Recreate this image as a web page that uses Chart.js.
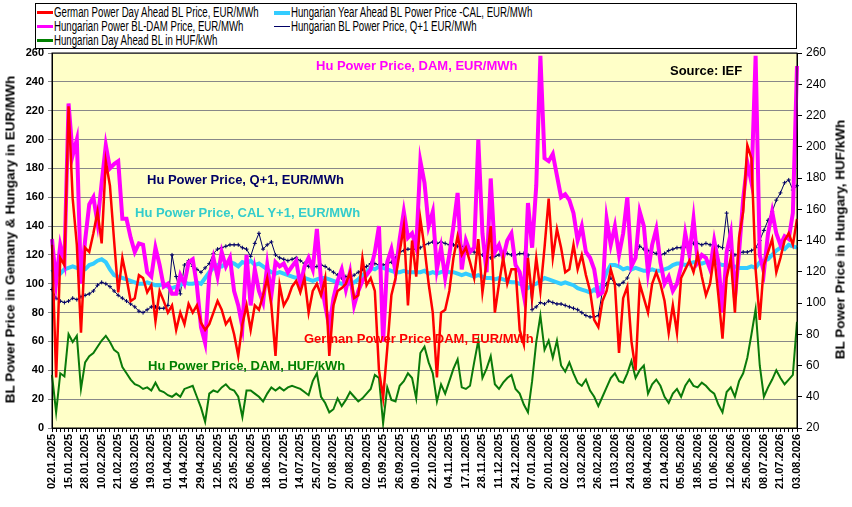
<!DOCTYPE html>
<html><head><meta charset="utf-8">
<script src="https://cdn.jsdelivr.net/npm/chart.js@4.4.1/dist/chart.umd.min.js"></script>
<style>
body{margin:0;background:#fff;font-family:"Liberation Sans",Arial,sans-serif;}
#wrap{position:relative;width:852px;height:507px;}
canvas{position:absolute;left:0;top:0;}
.lg{position:absolute;left:35px;top:3px;width:760px;height:44px;border:1px solid #000;background:#fff;font-size:14px;}
.it{position:absolute;white-space:nowrap;line-height:14px;}
.sw{position:absolute;left:0;top:6px;width:16px;height:3px;}
.tx{position:absolute;left:17px;top:0;transform:scaleX(0.69);transform-origin:left center;}
.an{position:absolute;font-weight:bold;font-size:13px;white-space:nowrap;}
.yt{position:absolute;font-weight:bold;font-size:13.5px;white-space:nowrap;transform-origin:center;}
</style></head><body>
<div id="wrap">
<canvas id="c" width="852" height="507"></canvas>
<div class="lg">
 <div class="it" style="left:1px;top:1px"><span class="sw" style="background:#ff0000"></span><span class="tx">German Power Day Ahead BL Price, EUR/MWh</span></div>
 <div class="it" style="left:1px;top:15px"><span class="sw" style="background:#ff00ff"></span><span class="tx">Hungarian Power BL-DAM Price, EUR/MWh</span></div>
 <div class="it" style="left:1px;top:29px"><span class="sw" style="background:#008000"></span><span class="tx">Hungarian Day Ahead BL in HUF/kWh</span></div>
 <div class="it" style="left:238px;top:1px"><span class="sw" style="background:#33ccff;height:4px"></span><span class="tx">Hungarian Year Ahead BL Power Price -CAL, EUR/MWh</span></div>
 <div class="it" style="left:238px;top:15px"><span class="sw" style="background:#000066;height:1px;top:7px"></span><span class="tx">Hungarian BL Power Price, Q+1 EUR/MWh</span></div>
</div>
<div class="an" style="left:316px;top:58px;color:#ff00ff">Hu Power Price, DAM, EUR/MWh</div>
<div class="an" style="left:670px;top:63px;color:#000">Source: IEF</div>
<div class="an" style="left:147px;top:172px;color:#000066">Hu Power Price, Q+1, EUR/MWh</div>
<div class="an" style="left:135px;top:205px;color:#33cccc">Hu Power Price, CAL Y+1, EUR/MWh</div>
<div class="an" style="left:304px;top:331px;color:#ff0000">German Power Price DAM, EUR/MWh</div>
<div class="an" style="left:148px;top:358px;color:#008000">Hu Power Price, DAM, HUF/kWh</div>
<div class="yt" style="left:-155px;top:232px;width:330px;text-align:center;transform:rotate(-90deg)">BL Power Price in Gemany &amp; Hungary in EUR/MWh</div>
<div class="yt" style="left:705px;top:232px;width:270px;text-align:center;transform:rotate(-90deg)">BL Power Price in Hungary, HUF/kWh</div>
</div>
<script>
const tickLabels=["02.01.2025","15.01.2025","28.01.2025","10.02.2025","21.02.2025","06.03.2025","19.03.2025","01.04.2025","14.04.2025","29.04.2025","12.05.2025","23.05.2025","05.06.2025","18.06.2025","01.07.2025","14.07.2025","25.07.2025","07.08.2025","20.08.2025","02.09.2025","15.09.2025","26.09.2025","09.10.2025","22.10.2025","04.11.2025","17.11.2025","28.11.2025","11.12.2025","24.12.2025","07.01.2026","20.01.2026","02.02.2026","13.02.2026","26.02.2026","11.03.2026","24.03.2026","08.04.2026","21.04.2026","05.05.2026","18.05.2026","01.06.2026","12.06.2026","25.06.2026","08.07.2026","21.07.2026","03.08.2026"];
const germanDAM=[127,35,118,113,223,159,127,66,125,122,135,150,128,185,168,130,94,118,104,88,90,106,104,94,99,74,95,88,80,85,68,80,72,86,80,85,73,68,72,80,88,82,72,76,65,50,72,85,68,85,82,92,104,85,50,99,85,90,98,102,94,104,80,95,100,92,104,50,85,95,97,100,108,90,92,118,99,104,95,40,21,55,92,104,122,140,85,130,105,145,125,100,80,35,80,82,95,118,133,120,125,115,104,131,94,115,140,80,100,118,100,110,110,68,58,118,90,118,95,125,159,118,138,125,108,110,127,110,120,106,95,75,70,88,95,110,100,52,90,98,60,40,100,90,80,100,108,100,88,66,85,66,104,110,116,108,120,105,92,100,120,92,62,104,118,80,132,150,196,187,110,75,113,122,131,108,118,130,135,127,145];
const huDAM=[131,101,127,115,225,189,200,100,130,155,160,142,170,196,180,183,185,145,145,132,122,128,127,108,105,125,113,98,100,93,93,106,100,115,117,99,70,59,105,118,105,122,112,118,95,85,70,120,85,110,95,87,113,92,115,112,114,108,112,116,99,112,118,110,138,102,85,70,90,102,110,96,108,85,95,102,106,110,122,140,60,115,124,108,131,150,132,135,125,185,170,140,150,110,125,104,120,140,163,110,130,122,125,200,135,108,173,122,127,118,130,135,113,108,92,156,125,168,258,187,185,190,175,160,162,158,149,130,140,122,118,110,92,94,145,127,140,120,135,160,112,118,150,140,108,127,138,115,100,105,95,100,112,135,120,145,115,120,118,110,130,115,80,122,135,90,122,159,184,170,258,120,108,135,150,135,127,133,131,149,251];
const huDAM_HUF=[54,30,55,53,80,75,79,45,62,66,68,72,76,79,75,70,68,59,55,51,48,47,45,46,44,49,44,43,41,40,42,40,45,46,47,40,33,24,42,44,43,46,48,45,44,40,27,44,44,42,40,37,42,46,44,46,44,46,47,46,45,43,41,50,55,40,36,30,32,39,34,38,43,40,37,39,42,45,54,52,23,46,38,37,47,50,55,52,39,68,72,62,55,37,48,42,50,58,64,46,45,47,62,76,52,58,66,48,45,49,52,54,45,42,35,30,50,75,92,70,76,65,76,60,56,62,55,49,47,51,44,40,34,40,46,52,55,50,49,55,63,52,57,60,42,48,51,47,40,36,42,45,40,47,51,47,46,49,47,44,42,35,30,43,46,40,50,55,65,80,96,60,40,46,51,57,52,48,51,54,88];
const huCAL=[110,106,107,110,111,112,111,110,110,113,114,116,117,115,110,106,105,104,103,102,101,100,100,101,100,99,99,100,98,97,98,99,101,100,100,101,100,104,108,111,113,112,114,115,114,112,115,114,116,113,114,112,110,108,107,108,107,106,105,104,105,104,103,102,103,104,104,103,102,101,100,101,100,101,103,106,108,111,110,112,111,110,109,108,108,109,108,108,108,108,109,107,108,107,108,109,108,108,107,106,107,106,105,106,105,104,104,103,104,103,102,101,101,100,99,97,99,100,102,104,103,102,101,100,101,100,99,97,96,95,94,96,94,100,108,113,113,112,110,111,110,111,110,109,109,110,109,109,110,111,113,114,114,113,114,115,115,114,115,115,115,114,113,113,112,112,111,111,111,112,111,115,116,117,120,123,125,124,127,126,125];
const huQ1=[96,90,88,87,88,90,89,91,92,93,95,99,101,100,98,95,92,90,88,86,84,81,80,82,84,84,83,83,85,120,105,93,113,116,112,110,108,111,114,121,124,125,126,127,127,127,125,124,119,128,135,124,127,129,120,118,117,116,117,118,116,114,112,111,112,113,112,110,108,106,104,105,104,106,108,110,112,114,114,113,113,114,115,118,122,123,124,124,124,125,127,128,129,128,129,128,127,127,126,126,125,123,122,121,120,119,118,119,120,121,121,120,120,121,121,120,82,84,87,86,88,87,86,86,85,84,83,82,80,78,77,77,78,95,100,104,100,99,101,104,110,120,126,124,123,122,121,120,121,123,124,125,125,126,128,128,128,127,128,127,127,126,125,149,123,120,121,122,122,123,125,130,137,144,150,158,163,170,172,165,168];
const PER=4;
const cats=germanDAM.map((_,i)=>i);
const bg={id:'bg',beforeDraw(ch){const a=ch.chartArea,c=ch.ctx;c.save();c.fillStyle='#ffffc8';c.fillRect(a.left,a.top,a.right-a.left,a.bottom-a.top);c.restore();},
 afterDraw(ch){const a=ch.chartArea,c=ch.ctx;c.save();c.strokeStyle='#000';c.lineWidth=1;c.strokeRect(a.left,a.top,a.right-a.left,a.bottom-a.top);c.restore();}};
const tf={family:'"Liberation Sans",Arial',size:11,weight:'bold'};
new Chart(document.getElementById('c'),{type:'line',
data:{labels:cats,datasets:[
 {data:germanDAM,borderColor:'#ff0000',borderWidth:2.5,pointRadius:0,yAxisID:'y'},
 {data:huDAM,borderColor:'#ff00ff',borderWidth:4,pointRadius:0,yAxisID:'y'},
 {data:huDAM_HUF,borderColor:'#0a7a0a',borderWidth:2,pointRadius:0,yAxisID:'y2'},
 {data:huCAL,borderColor:'#33ccff',borderWidth:4,pointRadius:0,yAxisID:'y'},
 {data:huQ1,borderColor:'#000066',borderWidth:1,pointRadius:2,pointStyle:'cross',pointBorderColor:'#000066',pointBorderWidth:1,yAxisID:'y'}
]},
options:{responsive:false,animation:false,devicePixelRatio:1,
 layout:{padding:{top:53,left:0,right:0,bottom:0}},
 plugins:{legend:{display:false},tooltip:{enabled:false}},
 elements:{line:{tension:0}},
 scales:{
  x:{type:'category',offset:false,grid:{display:true,drawOnChartArea:false,color:'#000',tickLength:4},border:{color:'#000'},
     ticks:{autoSkip:false,maxRotation:90,minRotation:90,color:'#000',font:tf,padding:2,
       callback:(v,i)=>i%PER===0?tickLabels[i/PER]:''},
     afterFit:s=>{s.height=79;}},
  y:{position:'left',min:0,max:260,ticks:{stepSize:20,color:'#000',font:tf,padding:4},
     grid:{color:'#888',tickLength:4,drawTicks:true},border:{color:'#000'},afterFit:s=>{s.width=52;}},
  y2:{position:'right',min:20,max:260,ticks:{stepSize:20,color:'#000',font:{family:'"Liberation Sans",Arial',size:12},padding:4},
     grid:{drawOnChartArea:false,color:'#000',tickLength:5},border:{color:'#000'},afterFit:s=>{s.width=55;}}
 }},
plugins:[bg]});
</script>
</body></html>
